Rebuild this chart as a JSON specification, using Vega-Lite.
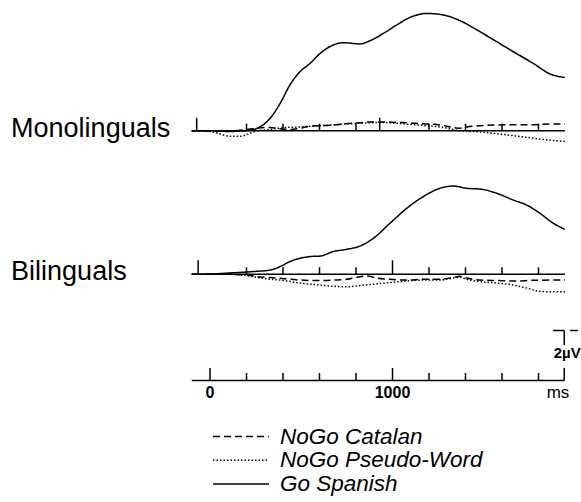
{
  "$schema": "https://vega.github.io/schema/vega-lite/v6.json",
  "width": 581,
  "height": 502,
  "autosize": {"type": "fit", "contains": "padding"},
  "padding": 0,
  "background": "white",
  "config": {"view": {"stroke": null}, "font": "Liberation Sans"},
  "datasets": {
    "erp": [
      {"group": "Monolinguals", "cond": "Go Spanish", "t": -100, "v": 0},
      {"group": "Monolinguals", "cond": "Go Spanish", "t": 0, "v": 0},
      {"group": "Monolinguals", "cond": "Go Spanish", "t": 100, "v": 0.03},
      {"group": "Monolinguals", "cond": "Go Spanish", "t": 200, "v": 0},
      {"group": "Monolinguals", "cond": "Go Spanish", "t": 256, "v": -0.09},
      {"group": "Monolinguals", "cond": "Go Spanish", "t": 329, "v": -0.49},
      {"group": "Monolinguals", "cond": "Go Spanish", "t": 384, "v": -1.09},
      {"group": "Monolinguals", "cond": "Go Spanish", "t": 438, "v": -1.83},
      {"group": "Monolinguals", "cond": "Go Spanish", "t": 493, "v": -2.36},
      {"group": "Monolinguals", "cond": "Go Spanish", "t": 548, "v": -2.69},
      {"group": "Monolinguals", "cond": "Go Spanish", "t": 603, "v": -3.09},
      {"group": "Monolinguals", "cond": "Go Spanish", "t": 676, "v": -3.43},
      {"group": "Monolinguals", "cond": "Go Spanish", "t": 731, "v": -3.52},
      {"group": "Monolinguals", "cond": "Go Spanish", "t": 822, "v": -3.47},
      {"group": "Monolinguals", "cond": "Go Spanish", "t": 877, "v": -3.6},
      {"group": "Monolinguals", "cond": "Go Spanish", "t": 950, "v": -3.89},
      {"group": "Monolinguals", "cond": "Go Spanish", "t": 1023, "v": -4.23},
      {"group": "Monolinguals", "cond": "Go Spanish", "t": 1096, "v": -4.53},
      {"group": "Monolinguals", "cond": "Go Spanish", "t": 1187, "v": -4.69},
      {"group": "Monolinguals", "cond": "Go Spanish", "t": 1279, "v": -4.63},
      {"group": "Monolinguals", "cond": "Go Spanish", "t": 1370, "v": -4.4},
      {"group": "Monolinguals", "cond": "Go Spanish", "t": 1479, "v": -3.96},
      {"group": "Monolinguals", "cond": "Go Spanish", "t": 1571, "v": -3.56},
      {"group": "Monolinguals", "cond": "Go Spanish", "t": 1662, "v": -3.16},
      {"group": "Monolinguals", "cond": "Go Spanish", "t": 1772, "v": -2.69},
      {"group": "Monolinguals", "cond": "Go Spanish", "t": 1863, "v": -2.27},
      {"group": "Monolinguals", "cond": "Go Spanish", "t": 1945, "v": -2.13},

      {"group": "Monolinguals", "cond": "NoGo Catalan", "t": -100, "v": 0},
      {"group": "Monolinguals", "cond": "NoGo Catalan", "t": 0, "v": 0},
      {"group": "Monolinguals", "cond": "NoGo Catalan", "t": 100, "v": 0.02},
      {"group": "Monolinguals", "cond": "NoGo Catalan", "t": 200, "v": -0.05},
      {"group": "Monolinguals", "cond": "NoGo Catalan", "t": 256, "v": -0.1},
      {"group": "Monolinguals", "cond": "NoGo Catalan", "t": 329, "v": -0.13},
      {"group": "Monolinguals", "cond": "NoGo Catalan", "t": 384, "v": -0.08},
      {"group": "Monolinguals", "cond": "NoGo Catalan", "t": 438, "v": -0.05},
      {"group": "Monolinguals", "cond": "NoGo Catalan", "t": 493, "v": -0.1},
      {"group": "Monolinguals", "cond": "NoGo Catalan", "t": 548, "v": -0.18},
      {"group": "Monolinguals", "cond": "NoGo Catalan", "t": 603, "v": -0.2},
      {"group": "Monolinguals", "cond": "NoGo Catalan", "t": 676, "v": -0.23},
      {"group": "Monolinguals", "cond": "NoGo Catalan", "t": 731, "v": -0.27},
      {"group": "Monolinguals", "cond": "NoGo Catalan", "t": 822, "v": -0.32},
      {"group": "Monolinguals", "cond": "NoGo Catalan", "t": 877, "v": -0.35},
      {"group": "Monolinguals", "cond": "NoGo Catalan", "t": 950, "v": -0.35},
      {"group": "Monolinguals", "cond": "NoGo Catalan", "t": 1023, "v": -0.33},
      {"group": "Monolinguals", "cond": "NoGo Catalan", "t": 1096, "v": -0.31},
      {"group": "Monolinguals", "cond": "NoGo Catalan", "t": 1187, "v": -0.27},
      {"group": "Monolinguals", "cond": "NoGo Catalan", "t": 1260, "v": -0.23},
      {"group": "Monolinguals", "cond": "NoGo Catalan", "t": 1333, "v": -0.13},
      {"group": "Monolinguals", "cond": "NoGo Catalan", "t": 1370, "v": -0.1},
      {"group": "Monolinguals", "cond": "NoGo Catalan", "t": 1406, "v": -0.15},
      {"group": "Monolinguals", "cond": "NoGo Catalan", "t": 1479, "v": -0.2},
      {"group": "Monolinguals", "cond": "NoGo Catalan", "t": 1571, "v": -0.23},
      {"group": "Monolinguals", "cond": "NoGo Catalan", "t": 1662, "v": -0.24},
      {"group": "Monolinguals", "cond": "NoGo Catalan", "t": 1772, "v": -0.24},
      {"group": "Monolinguals", "cond": "NoGo Catalan", "t": 1863, "v": -0.27},
      {"group": "Monolinguals", "cond": "NoGo Catalan", "t": 1945, "v": -0.27},

      {"group": "Monolinguals", "cond": "NoGo Pseudo-Word", "t": -100, "v": 0},
      {"group": "Monolinguals", "cond": "NoGo Pseudo-Word", "t": 0, "v": 0.03},
      {"group": "Monolinguals", "cond": "NoGo Pseudo-Word", "t": 50, "v": 0.12},
      {"group": "Monolinguals", "cond": "NoGo Pseudo-Word", "t": 110, "v": 0.22},
      {"group": "Monolinguals", "cond": "NoGo Pseudo-Word", "t": 170, "v": 0.22},
      {"group": "Monolinguals", "cond": "NoGo Pseudo-Word", "t": 220, "v": 0.1},
      {"group": "Monolinguals", "cond": "NoGo Pseudo-Word", "t": 256, "v": 0.01},
      {"group": "Monolinguals", "cond": "NoGo Pseudo-Word", "t": 329, "v": -0.05},
      {"group": "Monolinguals", "cond": "NoGo Pseudo-Word", "t": 400, "v": -0.12},
      {"group": "Monolinguals", "cond": "NoGo Pseudo-Word", "t": 493, "v": -0.15},
      {"group": "Monolinguals", "cond": "NoGo Pseudo-Word", "t": 603, "v": -0.2},
      {"group": "Monolinguals", "cond": "NoGo Pseudo-Word", "t": 700, "v": -0.25},
      {"group": "Monolinguals", "cond": "NoGo Pseudo-Word", "t": 822, "v": -0.3},
      {"group": "Monolinguals", "cond": "NoGo Pseudo-Word", "t": 950, "v": -0.33},
      {"group": "Monolinguals", "cond": "NoGo Pseudo-Word", "t": 1023, "v": -0.3},
      {"group": "Monolinguals", "cond": "NoGo Pseudo-Word", "t": 1096, "v": -0.25},
      {"group": "Monolinguals", "cond": "NoGo Pseudo-Word", "t": 1187, "v": -0.2},
      {"group": "Monolinguals", "cond": "NoGo Pseudo-Word", "t": 1279, "v": -0.13},
      {"group": "Monolinguals", "cond": "NoGo Pseudo-Word", "t": 1370, "v": 0},
      {"group": "Monolinguals", "cond": "NoGo Pseudo-Word", "t": 1479, "v": 0.05},
      {"group": "Monolinguals", "cond": "NoGo Pseudo-Word", "t": 1571, "v": 0.12},
      {"group": "Monolinguals", "cond": "NoGo Pseudo-Word", "t": 1662, "v": 0.2},
      {"group": "Monolinguals", "cond": "NoGo Pseudo-Word", "t": 1772, "v": 0.3},
      {"group": "Monolinguals", "cond": "NoGo Pseudo-Word", "t": 1863, "v": 0.38},
      {"group": "Monolinguals", "cond": "NoGo Pseudo-Word", "t": 1945, "v": 0.43},

      {"group": "Bilinguals", "cond": "Go Spanish", "t": -100, "v": 0},
      {"group": "Bilinguals", "cond": "Go Spanish", "t": 0, "v": -0.01},
      {"group": "Bilinguals", "cond": "Go Spanish", "t": 100, "v": -0.05},
      {"group": "Bilinguals", "cond": "Go Spanish", "t": 201, "v": -0.09},
      {"group": "Bilinguals", "cond": "Go Spanish", "t": 256, "v": -0.12},
      {"group": "Bilinguals", "cond": "Go Spanish", "t": 329, "v": -0.17},
      {"group": "Bilinguals", "cond": "Go Spanish", "t": 384, "v": -0.31},
      {"group": "Bilinguals", "cond": "Go Spanish", "t": 438, "v": -0.51},
      {"group": "Bilinguals", "cond": "Go Spanish", "t": 493, "v": -0.64},
      {"group": "Bilinguals", "cond": "Go Spanish", "t": 548, "v": -0.71},
      {"group": "Bilinguals", "cond": "Go Spanish", "t": 603, "v": -0.73},
      {"group": "Bilinguals", "cond": "Go Spanish", "t": 676, "v": -0.91},
      {"group": "Bilinguals", "cond": "Go Spanish", "t": 749, "v": -1.0},
      {"group": "Bilinguals", "cond": "Go Spanish", "t": 822, "v": -1.13},
      {"group": "Bilinguals", "cond": "Go Spanish", "t": 895, "v": -1.44},
      {"group": "Bilinguals", "cond": "Go Spanish", "t": 986, "v": -2.04},
      {"group": "Bilinguals", "cond": "Go Spanish", "t": 1078, "v": -2.64},
      {"group": "Bilinguals", "cond": "Go Spanish", "t": 1169, "v": -3.11},
      {"group": "Bilinguals", "cond": "Go Spanish", "t": 1260, "v": -3.44},
      {"group": "Bilinguals", "cond": "Go Spanish", "t": 1333, "v": -3.53},
      {"group": "Bilinguals", "cond": "Go Spanish", "t": 1406, "v": -3.44},
      {"group": "Bilinguals", "cond": "Go Spanish", "t": 1479, "v": -3.41},
      {"group": "Bilinguals", "cond": "Go Spanish", "t": 1571, "v": -3.24},
      {"group": "Bilinguals", "cond": "Go Spanish", "t": 1662, "v": -2.97},
      {"group": "Bilinguals", "cond": "Go Spanish", "t": 1735, "v": -2.77},
      {"group": "Bilinguals", "cond": "Go Spanish", "t": 1808, "v": -2.44},
      {"group": "Bilinguals", "cond": "Go Spanish", "t": 1881, "v": -2.04},
      {"group": "Bilinguals", "cond": "Go Spanish", "t": 1945, "v": -1.8},

      {"group": "Bilinguals", "cond": "NoGo Catalan", "t": -100, "v": 0},
      {"group": "Bilinguals", "cond": "NoGo Catalan", "t": 0, "v": 0},
      {"group": "Bilinguals", "cond": "NoGo Catalan", "t": 100, "v": 0},
      {"group": "Bilinguals", "cond": "NoGo Catalan", "t": 201, "v": 0.03},
      {"group": "Bilinguals", "cond": "NoGo Catalan", "t": 256, "v": 0.09},
      {"group": "Bilinguals", "cond": "NoGo Catalan", "t": 329, "v": 0.13},
      {"group": "Bilinguals", "cond": "NoGo Catalan", "t": 384, "v": 0.16},
      {"group": "Bilinguals", "cond": "NoGo Catalan", "t": 493, "v": 0.23},
      {"group": "Bilinguals", "cond": "NoGo Catalan", "t": 603, "v": 0.25},
      {"group": "Bilinguals", "cond": "NoGo Catalan", "t": 676, "v": 0.23},
      {"group": "Bilinguals", "cond": "NoGo Catalan", "t": 749, "v": 0.2},
      {"group": "Bilinguals", "cond": "NoGo Catalan", "t": 822, "v": 0.1},
      {"group": "Bilinguals", "cond": "NoGo Catalan", "t": 860, "v": 0.07},
      {"group": "Bilinguals", "cond": "NoGo Catalan", "t": 920, "v": 0.16},
      {"group": "Bilinguals", "cond": "NoGo Catalan", "t": 986, "v": 0.2},
      {"group": "Bilinguals", "cond": "NoGo Catalan", "t": 1078, "v": 0.23},
      {"group": "Bilinguals", "cond": "NoGo Catalan", "t": 1169, "v": 0.2},
      {"group": "Bilinguals", "cond": "NoGo Catalan", "t": 1260, "v": 0.2},
      {"group": "Bilinguals", "cond": "NoGo Catalan", "t": 1333, "v": 0.12},
      {"group": "Bilinguals", "cond": "NoGo Catalan", "t": 1370, "v": 0.08},
      {"group": "Bilinguals", "cond": "NoGo Catalan", "t": 1406, "v": 0.15},
      {"group": "Bilinguals", "cond": "NoGo Catalan", "t": 1479, "v": 0.23},
      {"group": "Bilinguals", "cond": "NoGo Catalan", "t": 1571, "v": 0.25},
      {"group": "Bilinguals", "cond": "NoGo Catalan", "t": 1662, "v": 0.27},
      {"group": "Bilinguals", "cond": "NoGo Catalan", "t": 1772, "v": 0.24},
      {"group": "Bilinguals", "cond": "NoGo Catalan", "t": 1881, "v": 0.23},
      {"group": "Bilinguals", "cond": "NoGo Catalan", "t": 1945, "v": 0.23},

      {"group": "Bilinguals", "cond": "NoGo Pseudo-Word", "t": -100, "v": 0},
      {"group": "Bilinguals", "cond": "NoGo Pseudo-Word", "t": 0, "v": 0},
      {"group": "Bilinguals", "cond": "NoGo Pseudo-Word", "t": 100, "v": 0},
      {"group": "Bilinguals", "cond": "NoGo Pseudo-Word", "t": 201, "v": 0.05},
      {"group": "Bilinguals", "cond": "NoGo Pseudo-Word", "t": 256, "v": 0.12},
      {"group": "Bilinguals", "cond": "NoGo Pseudo-Word", "t": 329, "v": 0.2},
      {"group": "Bilinguals", "cond": "NoGo Pseudo-Word", "t": 384, "v": 0.23},
      {"group": "Bilinguals", "cond": "NoGo Pseudo-Word", "t": 493, "v": 0.35},
      {"group": "Bilinguals", "cond": "NoGo Pseudo-Word", "t": 603, "v": 0.43},
      {"group": "Bilinguals", "cond": "NoGo Pseudo-Word", "t": 676, "v": 0.48},
      {"group": "Bilinguals", "cond": "NoGo Pseudo-Word", "t": 749, "v": 0.5},
      {"group": "Bilinguals", "cond": "NoGo Pseudo-Word", "t": 822, "v": 0.45},
      {"group": "Bilinguals", "cond": "NoGo Pseudo-Word", "t": 895, "v": 0.4},
      {"group": "Bilinguals", "cond": "NoGo Pseudo-Word", "t": 986, "v": 0.33},
      {"group": "Bilinguals", "cond": "NoGo Pseudo-Word", "t": 1078, "v": 0.27},
      {"group": "Bilinguals", "cond": "NoGo Pseudo-Word", "t": 1169, "v": 0.23},
      {"group": "Bilinguals", "cond": "NoGo Pseudo-Word", "t": 1260, "v": 0.23},
      {"group": "Bilinguals", "cond": "NoGo Pseudo-Word", "t": 1333, "v": 0.15},
      {"group": "Bilinguals", "cond": "NoGo Pseudo-Word", "t": 1370, "v": 0.12},
      {"group": "Bilinguals", "cond": "NoGo Pseudo-Word", "t": 1406, "v": 0.2},
      {"group": "Bilinguals", "cond": "NoGo Pseudo-Word", "t": 1479, "v": 0.29},
      {"group": "Bilinguals", "cond": "NoGo Pseudo-Word", "t": 1571, "v": 0.35},
      {"group": "Bilinguals", "cond": "NoGo Pseudo-Word", "t": 1662, "v": 0.43},
      {"group": "Bilinguals", "cond": "NoGo Pseudo-Word", "t": 1735, "v": 0.55},
      {"group": "Bilinguals", "cond": "NoGo Pseudo-Word", "t": 1808, "v": 0.68},
      {"group": "Bilinguals", "cond": "NoGo Pseudo-Word", "t": 1881, "v": 0.7},
      {"group": "Bilinguals", "cond": "NoGo Pseudo-Word", "t": 1945, "v": 0.7}
    ],
    "monoTicks": [
      {"t": -73, "kind": "onset"}, {"t": 200, "kind": "minor"}, {"t": 400, "kind": "minor"},
      {"t": 600, "kind": "minor"}, {"t": 800, "kind": "minor"}, {"t": 930, "kind": "major"},
      {"t": 1200, "kind": "minor"}, {"t": 1400, "kind": "minor"}, {"t": 1600, "kind": "minor"},
      {"t": 1800, "kind": "minor"}
    ],
    "biTicks": [
      {"t": -65, "kind": "onset"}, {"t": 200, "kind": "minor"}, {"t": 400, "kind": "minor"},
      {"t": 600, "kind": "minor"}, {"t": 800, "kind": "minor"}, {"t": 1000, "kind": "major"},
      {"t": 1200, "kind": "minor"}, {"t": 1400, "kind": "minor"}, {"t": 1600, "kind": "minor"},
      {"t": 1800, "kind": "minor"}
    ],
    "timeTicks": [
      {"t": 0}, {"t": 200}, {"t": 400}, {"t": 600}, {"t": 800}, {"t": 1000},
      {"t": 1200}, {"t": 1400}, {"t": 1600}, {"t": 1800}
    ]
  },
  "layer": [
    {
      "layer": [
        {
          "data": {"name": "erp"},
          "transform": [{"filter": "datum.group == 'Monolinguals'"}],
          "mark": {"type": "line", "interpolate": "monotone", "strokeWidth": 1.5, "color": "black"},
          "encoding": {
            "x": {"field": "t", "type": "quantitative", "scale": {"domain": [-1150.7, 2032.9], "nice": false, "zero": false}, "axis": null},
            "y": {"field": "v", "type": "quantitative", "scale": {"domain": [-5.228, 14.852], "reverse": true, "nice": false, "zero": false}, "axis": null},
            "strokeDash": {
              "field": "cond", "type": "nominal",
              "scale": {"domain": ["NoGo Catalan", "NoGo Pseudo-Word", "Go Spanish"], "range": [[7, 4], [1.5, 2], [1, 0]]},
              "legend": {
                "orient": "none", "legendX": 212, "legendY": 426, "title": null,
                "symbolType": "stroke", "symbolSize": 3136, "symbolStrokeWidth": 1.5,
                "symbolStrokeColor": "black", "labelFont": "Liberation Sans", "labelFontSize": 22.5,
                "labelFontStyle": "italic", "labelColor": "black", "labelOffset": 10,
                "labelLimit": 400, "clipHeight": 21, "rowPadding": 0.7, "padding": 0
              }
            }
          }
        },
        {
          "data": {"values": [{}]},
          "mark": {"type": "rule", "strokeWidth": 1.5, "color": "black"},
          "encoding": {"x": {"datum": -100}, "x2": {"datum": 1945}, "y": {"datum": 0}}
        },
        {
          "data": {"name": "monoTicks"},
          "transform": [{"filter": "datum.kind == 'minor'"}],
          "mark": {"type": "rule", "strokeWidth": 1.5, "color": "black"},
          "encoding": {"x": {"field": "t", "type": "quantitative"}, "y": {"datum": 0}, "y2": {"datum": -0.28}}
        },
        {
          "data": {"name": "monoTicks"},
          "transform": [{"filter": "datum.kind != 'minor'"}],
          "mark": {"type": "rule", "strokeWidth": 1.5, "color": "black"},
          "encoding": {"x": {"field": "t", "type": "quantitative"}, "y": {"datum": 0}, "y2": {"datum": -0.52}}
        },
        {
          "data": {"values": [{"group": "Monolinguals"}]},
          "mark": {"type": "text", "align": "left", "baseline": "alphabetic", "dy": 6, "fontSize": 27, "color": "black"},
          "encoding": {"x": {"datum": -1090}, "y": {"datum": 0}, "text": {"field": "group"}}
        }
      ]
    },
    {
      "layer": [
        {
          "data": {"name": "erp"},
          "transform": [{"filter": "datum.group == 'Bilinguals'"}],
          "mark": {"type": "line", "interpolate": "monotone", "strokeWidth": 1.5, "color": "black"},
          "encoding": {
            "x": {"field": "t", "type": "quantitative", "scale": {"domain": [-1150.7, 2032.9], "nice": false, "zero": false}, "axis": null},
            "y": {"field": "v", "type": "quantitative", "scale": {"domain": [-10.972, 9.108], "reverse": true, "nice": false, "zero": false}, "axis": null},
            "strokeDash": {"field": "cond", "type": "nominal"}
          }
        },
        {
          "data": {"values": [{}]},
          "mark": {"type": "rule", "strokeWidth": 1.5, "color": "black"},
          "encoding": {"x": {"datum": -100}, "x2": {"datum": 1945}, "y": {"datum": 0}}
        },
        {
          "data": {"name": "biTicks"},
          "transform": [{"filter": "datum.kind == 'minor'"}],
          "mark": {"type": "rule", "strokeWidth": 1.5, "color": "black"},
          "encoding": {"x": {"field": "t", "type": "quantitative"}, "y": {"datum": 0}, "y2": {"datum": -0.28}}
        },
        {
          "data": {"name": "biTicks"},
          "transform": [{"filter": "datum.kind != 'minor'"}],
          "mark": {"type": "rule", "strokeWidth": 1.5, "color": "black"},
          "encoding": {"x": {"field": "t", "type": "quantitative"}, "y": {"datum": 0}, "y2": {"datum": -0.56}}
        },
        {
          "data": {"values": [{"group": "Bilinguals"}]},
          "mark": {"type": "text", "align": "left", "baseline": "alphabetic", "dy": 6, "fontSize": 27, "color": "black"},
          "encoding": {"x": {"datum": -1090}, "y": {"datum": 0}, "text": {"field": "group"}}
        }
      ]
    },
    {
      "layer": [
        {
          "data": {"values": [{}]},
          "mark": {"type": "rule", "strokeWidth": 1.5, "color": "black"},
          "encoding": {
            "x": {"datum": -100, "scale": {"domain": [-1150.7, 2032.9], "nice": false, "zero": false}, "axis": null},
            "x2": {"datum": 1941},
            "y": {"datum": 0, "scale": {"domain": [-15.22, 4.86], "reverse": true, "nice": false, "zero": false}, "axis": null}
          }
        },
        {
          "data": {"name": "timeTicks"},
          "transform": [{"filter": "datum.t % 1000 != 0"}],
          "mark": {"type": "rule", "strokeWidth": 1.5, "color": "black"},
          "encoding": {"x": {"field": "t", "type": "quantitative"}, "y": {"datum": 0}, "y2": {"datum": -0.3}}
        },
        {
          "data": {"name": "timeTicks"},
          "transform": [{"filter": "datum.t % 1000 == 0"}],
          "mark": {"type": "rule", "strokeWidth": 1.5, "color": "black"},
          "encoding": {"x": {"field": "t", "type": "quantitative"}, "y": {"datum": 0}, "y2": {"datum": -0.5}}
        },
        {
          "data": {"name": "timeTicks"},
          "transform": [{"filter": "datum.t % 1000 == 0"}],
          "mark": {"type": "text", "align": "center", "baseline": "middle", "fontSize": 16, "fontWeight": "bold", "color": "black"},
          "encoding": {"x": {"field": "t", "type": "quantitative"}, "y": {"datum": 0.5}, "text": {"field": "t", "type": "quantitative", "format": "d"}}
        },
        {
          "data": {"values": [{"unit": "ms"}]},
          "mark": {"type": "text", "align": "center", "baseline": "middle", "fontSize": 17, "color": "black"},
          "encoding": {"x": {"datum": 1907}, "y": {"datum": 0.5}, "text": {"field": "unit"}}
        },
        {
          "data": {"values": [{}]},
          "mark": {"type": "rule", "strokeWidth": 1.5, "color": "black"},
          "encoding": {"x": {"datum": 1879}, "x2": {"datum": 1941}, "y": {"datum": -2}}
        },
        {
          "data": {"values": [{}]},
          "mark": {"type": "rule", "strokeWidth": 1.5, "color": "black"},
          "encoding": {"x": {"datum": 1973}, "x2": {"datum": 2016}, "y": {"datum": -2}}
        },
        {
          "data": {"values": [{}]},
          "mark": {"type": "rule", "strokeWidth": 1.5, "color": "black"},
          "encoding": {"x": {"datum": 1941}, "y": {"datum": -2}, "y2": {"datum": -1.42}}
        },
        {
          "data": {"values": [{}]},
          "mark": {"type": "rule", "strokeWidth": 1.5, "color": "black"},
          "encoding": {"x": {"datum": 1941}, "y": {"datum": -0.5}, "y2": {"datum": 0}}
        },
        {
          "data": {"values": [{"unit": "2µV"}]},
          "mark": {"type": "text", "align": "center", "baseline": "middle", "fontSize": 15, "fontWeight": "bold", "color": "black"},
          "encoding": {"x": {"datum": 1957}, "y": {"datum": -1.1}, "text": {"field": "unit"}}
        }
      ]
    }
  ],
  "resolve": {"scale": {"y": "independent"}}
}
